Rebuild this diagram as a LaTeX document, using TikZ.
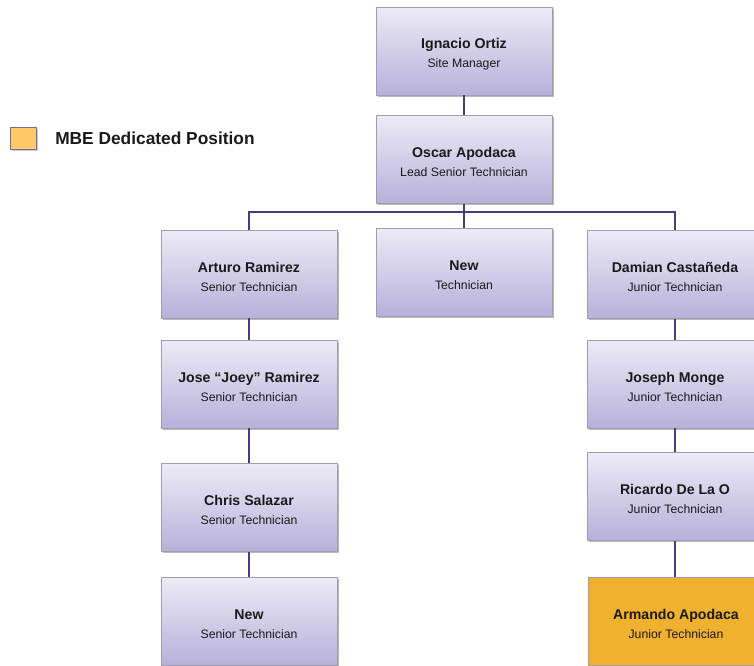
\documentclass[tikz,border=0pt]{standalone}
\usepackage{fontspec}
\setmainfont{Liberation Sans}
\usetikzlibrary{shadows}
\definecolor{boxtop}{HTML}{EDEBF7}
\definecolor{boxbot}{HTML}{B7B1DA}
\definecolor{boxline}{HTML}{A09DB0}
\definecolor{connc}{HTML}{4A3A7E}
\definecolor{mbe}{HTML}{F0B030}
\definecolor{legfill}{HTML}{FFCB66}
\definecolor{legline}{HTML}{7A68A8}
\definecolor{txt}{HTML}{1A1A1A}
\newcommand\pname[2]{\rule{0pt}{11.8pt}{\bfseries\fontsize{10.6}{14}\selectfont #1}\\[2.3pt]{\fontsize{9.2}{12.5}\selectfont #2}}
\tikzset{
  orgbox/.style={rectangle, minimum width=132pt, minimum height=66pt, draw=boxline, line width=0.6pt,
    top color=boxtop, bottom color=boxbot, align=center, text=txt, inner sep=2pt,
    drop shadow={shadow xshift=1.3pt, shadow yshift=-1.3pt, fill=black, opacity=0.28}},
  mbebox/.style={orgbox, top color=mbe, bottom color=mbe},
  conn/.style={draw=connc, line width=2.2pt, line join=miter},
  legbox/.style={rectangle, minimum width=20pt, minimum height=16pt, draw=legline, line width=0.8pt, fill=legfill,
    drop shadow={shadow xshift=1pt, shadow yshift=-1pt, fill=black, opacity=0.2}}
}
\begin{document}
\begin{tikzpicture}[x=0.75pt,y=-0.75pt]
\useasboundingbox (0,0) rectangle (754,665);
% boxes
\node[orgbox] (ign) at (464,51) {\pname{Ignacio Ortiz}{Site Manager}};
\node[orgbox] (osc) at (464,159.5) {\pname{Oscar Apodaca}{Lead Senior Technician}};
\node[orgbox] (art) at (249,274) {\pname{Arturo Ramirez}{Senior Technician}};
\node[orgbox] (newt) at (464,272) {\pname{New}{Technician}};
\node[orgbox] (dam) at (675,274.5) {\pname{Damian Castañeda}{Junior Technician}};
\node[orgbox] (jose) at (249,384) {\pname{Jose “Joey” Ramirez}{Senior Technician}};
\node[orgbox] (chris) at (249,507.5) {\pname{Chris Salazar}{Senior Technician}};
\node[orgbox] (newst) at (249,621) {\pname{New}{Senior Technician}};
\node[orgbox] (jos) at (675,384) {\pname{Joseph Monge}{Junior Technician}};
\node[orgbox] (ric) at (675,496.5) {\pname{Ricardo De La O}{Junior Technician}};
\node[mbebox] (arm) at (676,621.5) {\pname{Armando Apodaca}{Junior Technician}};
% legend
\node[legbox] (leg) at (23.5,138.5) {};
\node[anchor=west, text=txt, inner sep=0pt, font=\bfseries\fontsize{13}{15}\selectfont] (legt) at (55,138) {MBE Dedicated Position};
% connectors
\coordinate (busc) at (464,212);
\draw[conn] (ign) -- (osc);
\draw[conn] (osc.south) -- (busc);
\draw[conn] (art.north) -- (art.north |- busc) -- (dam.north |- busc) -- (dam.north);
\draw[conn] (busc) -- (newt.north);
\draw[conn] (art) -- (jose);
\draw[conn] (jose) -- (chris);
\draw[conn] (chris) -- (newst);
\draw[conn] (dam) -- (jos);
\draw[conn] (jos) -- (ric);
\draw[conn] (ric.south) -- (ric.south |- arm.north);
\end{tikzpicture}
\end{document}
